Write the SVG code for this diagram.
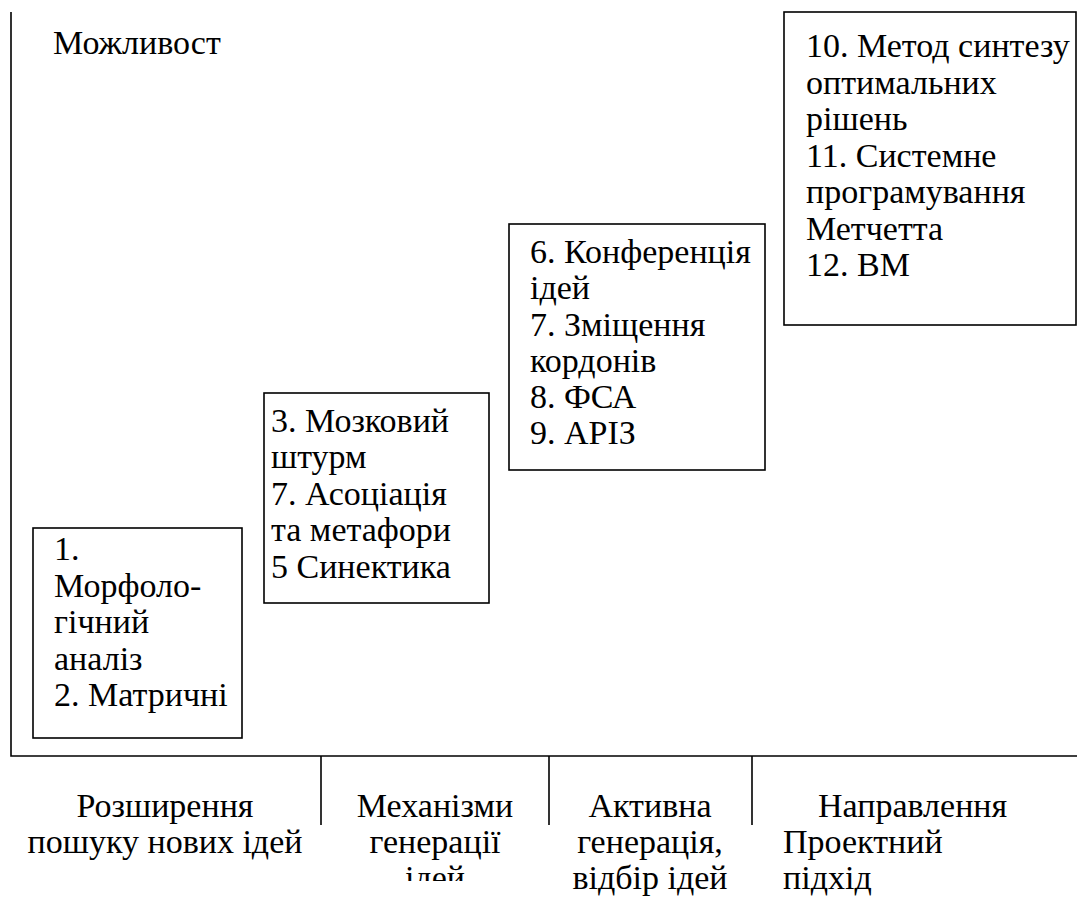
<svg xmlns="http://www.w3.org/2000/svg" width="1077" height="901" viewBox="0 0 1077 901" font-family="Liberation Serif">
<rect width="1077" height="901" fill="#fff"/>
<g id="connectors" stroke="#000" stroke-width="1.6" fill="none">
  <path d="M11,12 V756 H1077"/>
  <path d="M321,756 V825"/>
  <path d="M549,756 V825"/>
  <path d="M752,756 V825"/>
</g>
<text x="53" y="54" font-family="Liberation Serif" font-size="34">Можливост</text>
<g id="box1">
  <rect stroke="#000" stroke-width="1.6" fill="#fff" x="33" y="528" width="209" height="210"/>
  <text x="54" y="560" font-family="Liberation Serif" font-size="34">1.</text>
  <text x="54" y="597" font-family="Liberation Serif" font-size="34">Морфоло-</text>
  <text x="54" y="633" font-family="Liberation Serif" font-size="34">гічний</text>
  <text x="54" y="670" font-family="Liberation Serif" font-size="34">аналіз</text>
  <text x="54" y="706" font-family="Liberation Serif" font-size="34">2. Матричні</text>
</g>
<g id="box2">
  <rect stroke="#000" stroke-width="1.6" fill="#fff" x="264" y="393" width="225" height="210"/>
  <text x="271" y="432" font-family="Liberation Serif" font-size="34">3. Мозковий</text>
  <text x="271" y="468" font-family="Liberation Serif" font-size="34">штурм</text>
  <text x="271" y="505" font-family="Liberation Serif" font-size="34">7. Асоціація</text>
  <text x="271" y="541" font-family="Liberation Serif" font-size="34">та метафори</text>
  <text x="271" y="578" font-family="Liberation Serif" font-size="34">5 Синектика</text>
</g>
<g id="box3">
  <rect stroke="#000" stroke-width="1.6" fill="#fff" x="509" y="224" width="256" height="246"/>
  <text x="530" y="263" font-family="Liberation Serif" font-size="34">6. Конференція</text>
  <text x="530" y="299" font-family="Liberation Serif" font-size="34">ідей</text>
  <text x="530" y="336" font-family="Liberation Serif" font-size="34">7. Зміщення</text>
  <text x="530" y="372" font-family="Liberation Serif" font-size="34">кордонів</text>
  <text x="530" y="408" font-family="Liberation Serif" font-size="34">8. ФСА</text>
  <text x="530" y="444" font-family="Liberation Serif" font-size="34">9. АРІЗ</text>
</g>
<g id="box4">
  <rect stroke="#000" stroke-width="1.6" fill="#fff" x="784" y="12" width="292" height="313"/>
  <text x="806" y="57" font-family="Liberation Serif" font-size="34">10. Метод синтезу</text>
  <text x="806" y="94" font-family="Liberation Serif" font-size="34">оптимальних</text>
  <text x="806" y="130" font-family="Liberation Serif" font-size="34">рішень</text>
  <text x="806" y="167" font-family="Liberation Serif" font-size="34">11. Системне</text>
  <text x="806" y="203" font-family="Liberation Serif" font-size="34">програмування</text>
  <text x="806" y="240" font-family="Liberation Serif" font-size="34">Метчетта</text>
  <text x="806" y="276" font-family="Liberation Serif" font-size="34">12. ВМ</text>
</g>
<g id="col1">
  <text x="165" y="817" text-anchor="middle" font-family="Liberation Serif" font-size="34">Розширення</text>
  <text x="165" y="853" text-anchor="middle" font-family="Liberation Serif" font-size="34">пошуку нових ідей</text>
</g>
<g id="col2">
  <text x="435" y="817" text-anchor="middle" font-family="Liberation Serif" font-size="34">Механізми</text>
  <text x="435" y="853" text-anchor="middle" font-family="Liberation Serif" font-size="34">генерації</text>
  <text x="435" y="889" text-anchor="middle" font-family="Liberation Serif" font-size="34">ідей</text>
  <rect x="322" y="881" width="226" height="20" fill="#fff"/>
</g>
<g id="col3">
  <text x="650" y="817" text-anchor="middle" font-family="Liberation Serif" font-size="34">Активна</text>
  <text x="650" y="853" text-anchor="middle" font-family="Liberation Serif" font-size="34">генерація,</text>
  <text x="650" y="889" text-anchor="middle" font-family="Liberation Serif" font-size="34">відбір ідей</text>
</g>
<g id="col4">
  <text x="818" y="817" font-family="Liberation Serif" font-size="34">Направлення</text>
  <text x="783" y="853" font-family="Liberation Serif" font-size="34">Проектний</text>
  <text x="783" y="889" font-family="Liberation Serif" font-size="34">підхід</text>
</g>
</svg>
